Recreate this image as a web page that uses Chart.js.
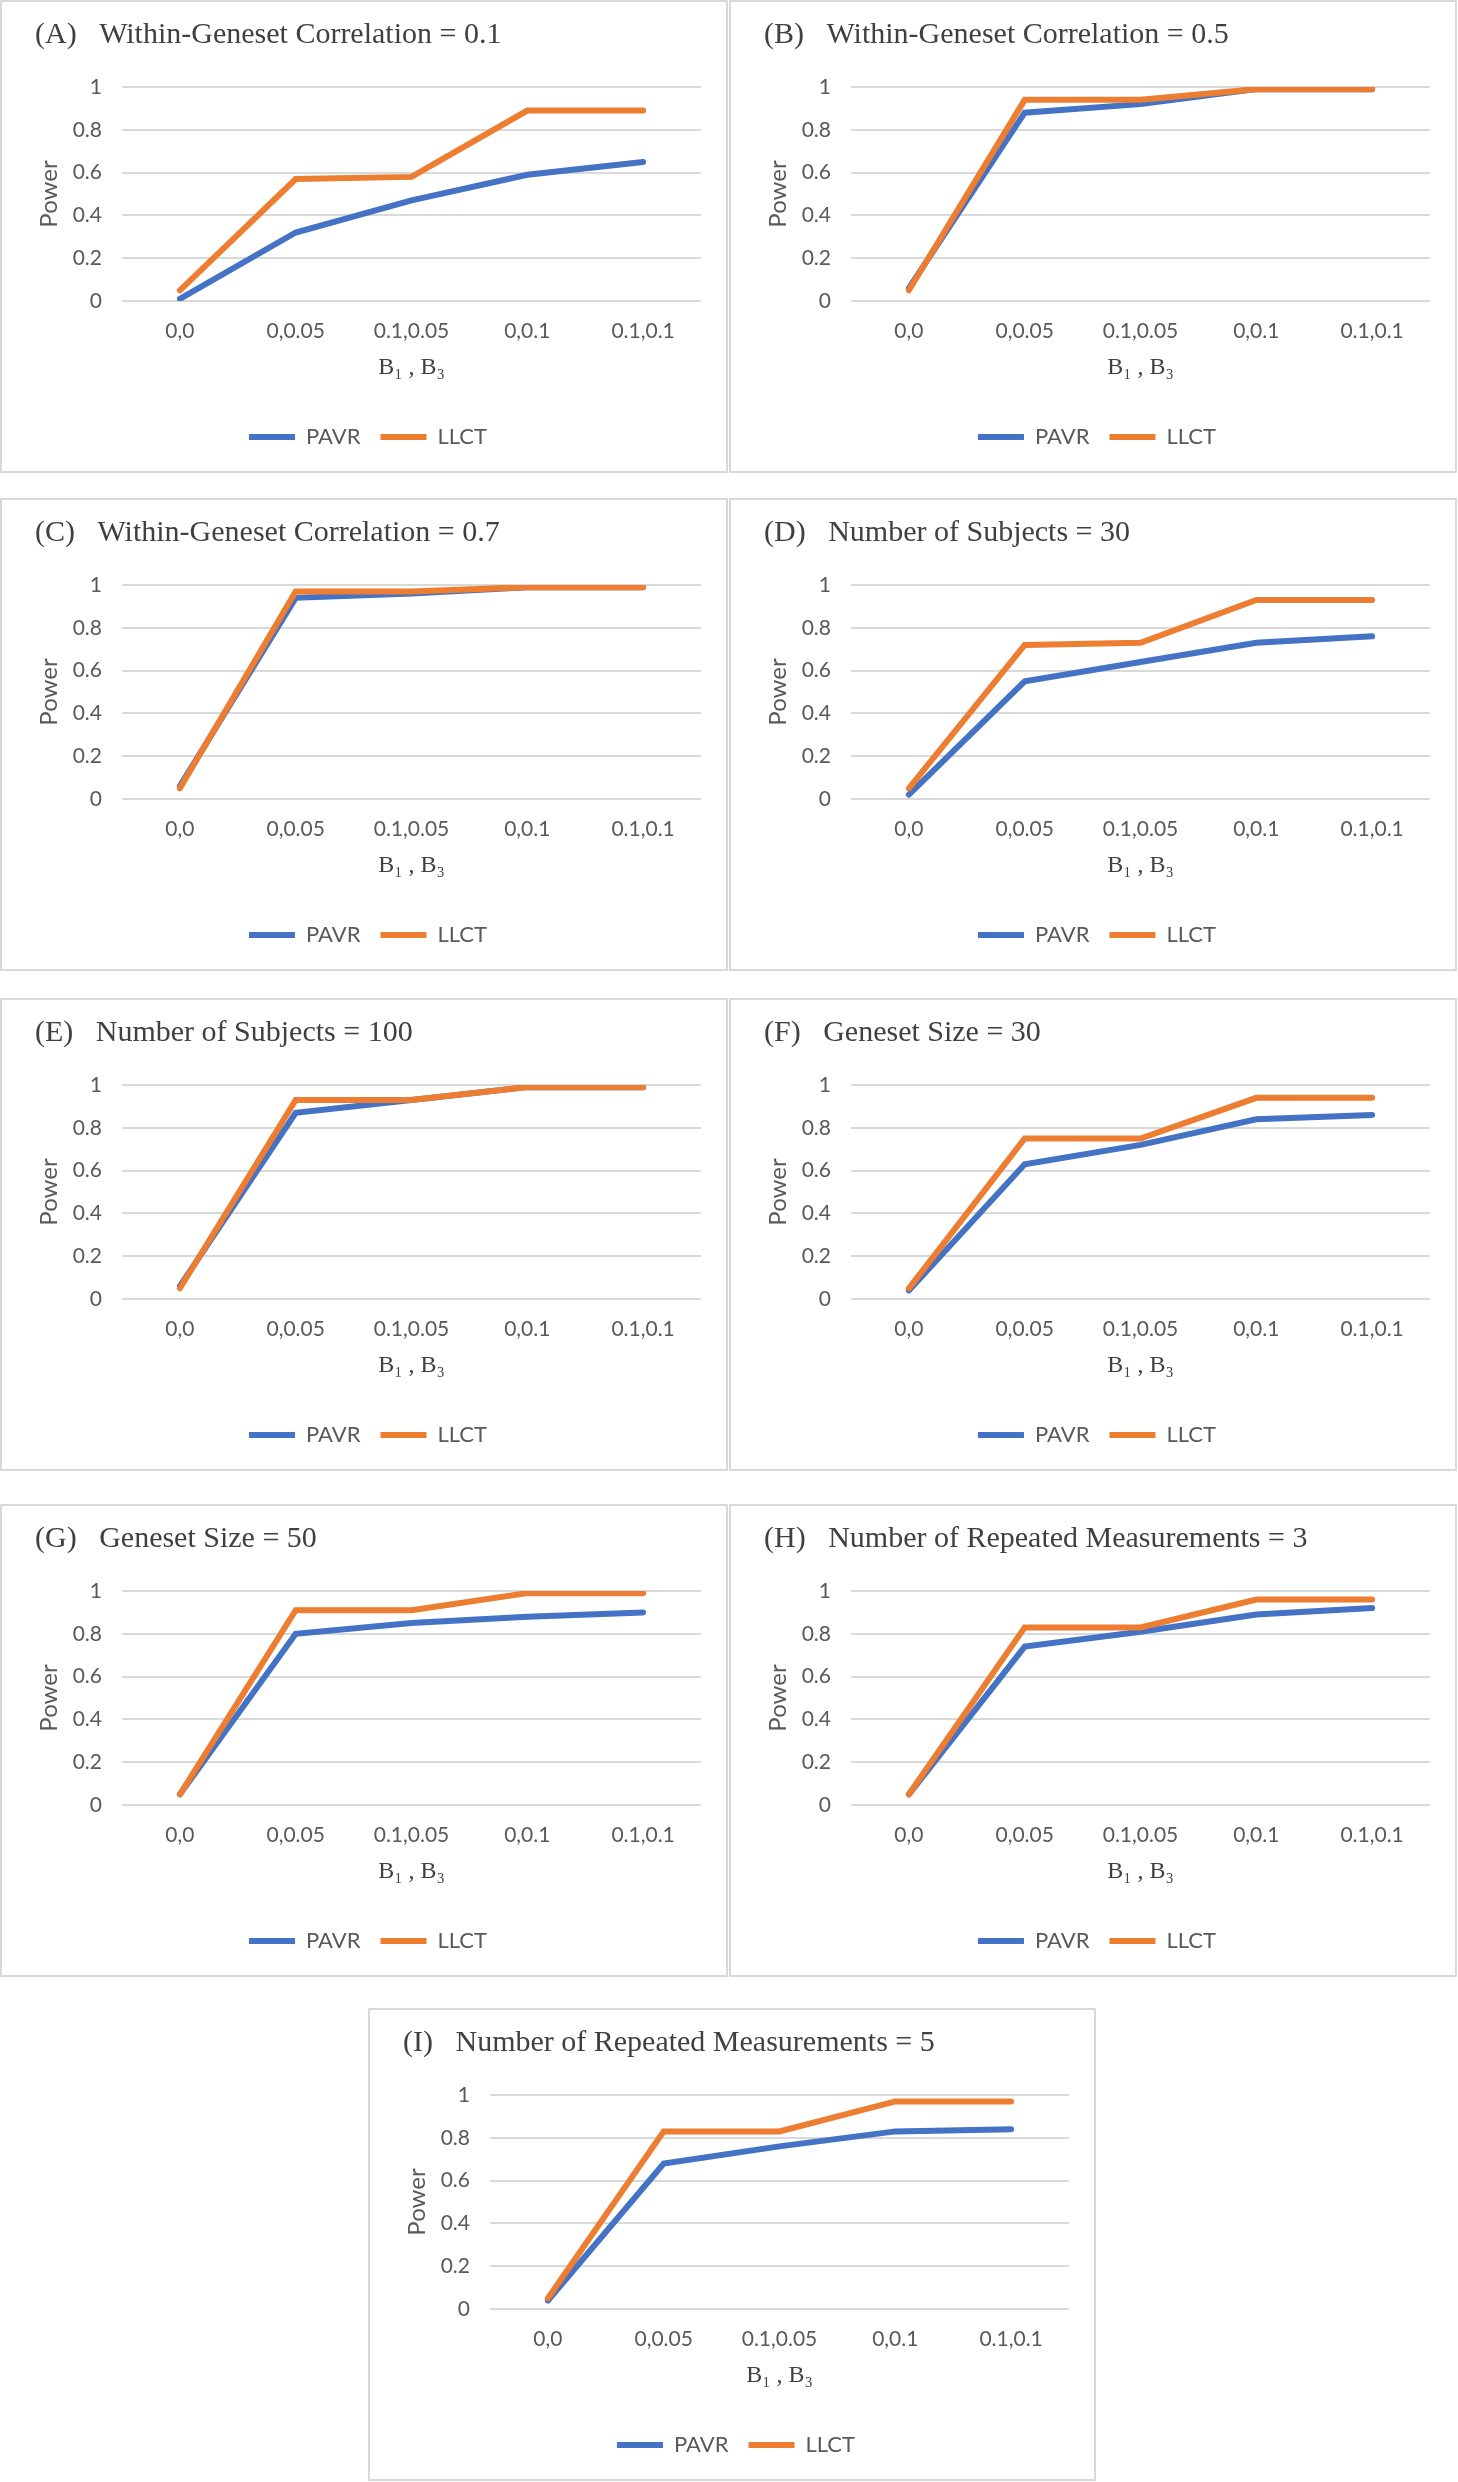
<!DOCTYPE html>
<html>
<head>
<meta charset="utf-8">
<title>Power by B1, B3</title>
<script src="https://cdn.jsdelivr.net/npm/chart.js"></script>
<style>
  html, body { margin: 0; padding: 0; background: #fff; }
  body { width: 1458px; height: 2482px; position: relative; overflow: hidden; }
  .panel { position: absolute; width: 728px; height: 473px; border: 2px solid #d9d9d9; box-sizing: border-box; background: #fff; }
  .panel canvas { position: absolute; left: 0; top: 0; }
</style>
</head>
<body>
<script>
// x categories (B1, B3)
const categories = ['0,0', '0,0.05', '0.1,0.05', '0,0.1', '0.1,0.1'];
const seriesNames = ['PAVR', 'LLCT'];

const titleA = '(A)   Within-Geneset Correlation = 0.1';
const titleB = '(B)   Within-Geneset Correlation = 0.5';
const titleC = '(C)   Within-Geneset Correlation = 0.7';
const titleD = '(D)   Number of Subjects = 30';
const titleE = '(E)   Number of Subjects = 100';
const titleF = '(F)   Geneset Size = 30';
const titleG = '(G)   Geneset Size = 50';
const titleH = '(H)   Number of Repeated Measurements = 3';
const titleI = '(I)   Number of Repeated Measurements = 5';

const pavrA = [0.01, 0.32, 0.47, 0.59, 0.65];
const llctA = [0.05, 0.57, 0.58, 0.89, 0.89];
const pavrB = [0.06, 0.88, 0.92, 0.99, 0.99];
const llctB = [0.05, 0.94, 0.94, 0.99, 0.99];
const pavrC = [0.06, 0.94, 0.96, 0.99, 0.99];
const llctC = [0.05, 0.97, 0.97, 0.99, 0.99];
const pavrD = [0.02, 0.55, 0.64, 0.73, 0.76];
const llctD = [0.05, 0.72, 0.73, 0.93, 0.93];
const pavrE = [0.06, 0.87, 0.93, 0.99, 0.99];
const llctE = [0.05, 0.93, 0.93, 0.99, 0.99];
const pavrF = [0.04, 0.63, 0.72, 0.84, 0.86];
const llctF = [0.05, 0.75, 0.75, 0.94, 0.94];
const pavrG = [0.05, 0.80, 0.85, 0.88, 0.90];
const llctG = [0.05, 0.91, 0.91, 0.99, 0.99];
const pavrH = [0.05, 0.74, 0.81, 0.89, 0.92];
const llctH = [0.05, 0.83, 0.83, 0.96, 0.96];
const pavrI = [0.04, 0.68, 0.76, 0.83, 0.84];
const llctI = [0.05, 0.83, 0.83, 0.97, 0.97];

// panel placement on the page
const panels = [
  { title: titleA, pavr: pavrA, llct: llctA, left: 0,   top: 0 },
  { title: titleB, pavr: pavrB, llct: llctB, left: 729, top: 0 },
  { title: titleC, pavr: pavrC, llct: llctC, left: 0,   top: 498 },
  { title: titleD, pavr: pavrD, llct: llctD, left: 729, top: 498 },
  { title: titleE, pavr: pavrE, llct: llctE, left: 0,   top: 998 },
  { title: titleF, pavr: pavrF, llct: llctF, left: 729, top: 998 },
  { title: titleG, pavr: pavrG, llct: llctG, left: 0,   top: 1504 },
  { title: titleH, pavr: pavrH, llct: llctH, left: 729, top: 1504 },
  { title: titleI, pavr: pavrI, llct: llctI, left: 368, top: 2008 }
];

Chart.defaults.font.family = 'Lato';
Chart.defaults.color = '#595959';

panels.forEach((p) => {
  const div = document.createElement('div');
  div.className = 'panel';
  div.style.left = p.left + 'px';
  div.style.top = p.top + 'px';
  const canvas = document.createElement('canvas');
  canvas.width = 724;
  canvas.height = 469;
  div.appendChild(canvas);
  document.body.appendChild(div);

  new Chart(canvas.getContext('2d'), {
    type: 'line',
    data: {
      labels: categories,
      datasets: [
        {
          label: seriesNames[0],
          data: p.pavr,
          borderColor: '#4472C4',
          backgroundColor: '#4472C4',
          borderWidth: 6,
          borderCapStyle: 'round',
          pointRadius: 0,
          tension: 0,
          order: 1
        },
        {
          label: seriesNames[1],
          data: p.llct,
          borderColor: '#ED7D31',
          backgroundColor: '#ED7D31',
          borderWidth: 6,
          borderCapStyle: 'round',
          pointRadius: 0,
          tension: 0,
          order: 0
        }
      ]
    },
    options: {
      responsive: false,
      animation: false,
      devicePixelRatio: 1,
      layout: { padding: { left: 33, right: 25, top: 0, bottom: 13 } },
      plugins: {
        title: {
          display: true,
          text: p.title,
          align: 'start',
          color: '#404040',
          font: { family: 'Liberation Serif', size: 30, weight: 'normal' },
          padding: { top: 15, bottom: 34 }
        },
        legend: {
          position: 'bottom',
          labels: {
            sort: (a, b) => a.datasetIndex - b.datasetIndex,
            usePointStyle: true,
            pointStyle: 'line',
            pointStyleWidth: 46,
            padding: 20,
            color: '#595959',
            font: { size: 22 }
          }
        },
        tooltip: { enabled: false }
      },
      scales: {
        x: {
          offset: true,
          grid: { display: false, drawTicks: false, offset: true },
          border: { display: false },
          ticks: { padding: 18, font: { size: 21 }, color: '#595959' },
          title: {
            display: true,
            text: 'B\u2081 , B\u2083',
            color: '#404040',
            font: { family: 'Liberation Serif', size: 24 },
            padding: { top: 0, bottom: 24 }
          },
          afterFit: (s) => { s.height = 105; }
        },
        y: {
          min: 0,
          max: 1,
          ticks: {
            stepSize: 0.2,
            padding: 20,
            font: { size: 21 },
            color: '#595959',
            callback: (v) => String(+v.toFixed(1))
          },
          grid: { color: '#d9d9d9', lineWidth: 2, drawTicks: false },
          border: { display: false },
          title: {
            display: true,
            text: 'Power',
            color: '#595959',
            font: { size: 24 },
            padding: { top: 0, bottom: 0 }
          },
          afterFit: (s) => { s.width = 87; }
        }
      }
    }
  });
});
</script>
</body>
</html>
